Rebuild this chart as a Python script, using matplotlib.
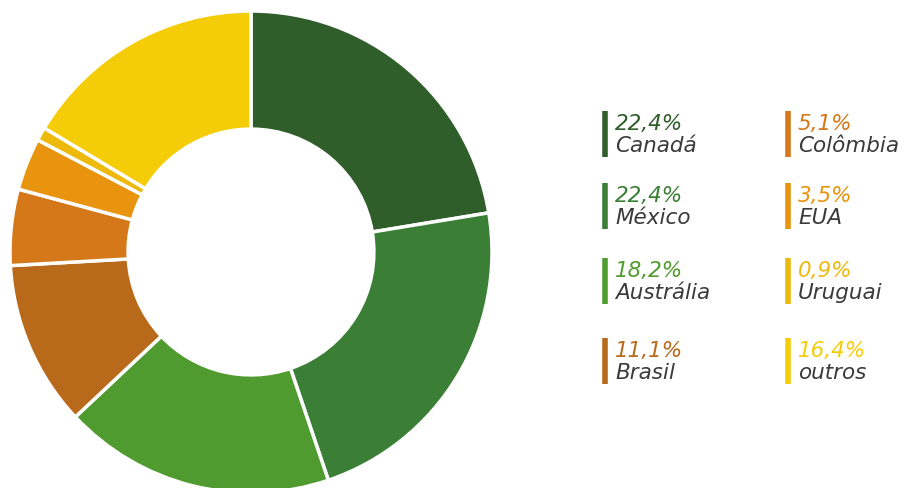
import matplotlib.pyplot as plt

# Participação por país
paises = ['Canadá', 'México', 'Austrália', 'Brasil', 'Colômbia', 'EUA', 'Uruguai', 'outros']
valores = [22.4, 22.4, 18.2, 11.1, 5.1, 3.5, 0.9, 16.4]
rotulos = ['22,4%', '22,4%', '18,2%', '11,1%', '5,1%', '3,5%', '0,9%', '16,4%']
cores = ['#2F5E2A', '#3A7F35', '#509B2F', '#B8691A', '#D4781A', '#E8940F', '#EDB90B', '#F5CC08']

W, H = 905, 489
fig = plt.figure(figsize=(W / 100, H / 100), dpi=100)

# Rosca
cx, cy, r = 251, 253, 241
ax = fig.add_axes([(cx - r) / W, (H - cy - r) / H, 2 * r / W, 2 * r / H])
ax.pie(valores, colors=cores, startangle=90, counterclock=False, radius=1,
       wedgeprops=dict(width=0.49, edgecolor='white', linewidth=2.5))
ax.set_xlim(-1, 1)
ax.set_ylim(-1, 1)
ax.set_aspect('equal')
ax.axis('off')

# Legenda em duas colunas
lg = fig.add_axes([0, 0, 1, 1])
lg.set_xlim(0, W)
lg.set_ylim(H, 0)
lg.axis('off')

col_x = [605, 788]
row_y = [112, 184, 259, 339]
for i, (nome, rot, cor) in enumerate(zip(paises, rotulos, cores)):
    x = col_x[i // 4]
    y = row_y[i % 4]
    lg.plot([x, x], [y, y + 46], color=cor, lw=4, solid_capstyle='butt')
    lg.text(x + 10, y + 12, rot, color=cor, fontsize=15.5, style='italic',
            family='DejaVu Sans', va='center', ha='left')
    lg.text(x + 10, y + 34, nome, color='#3a3a3a', fontsize=15.5, style='italic',
            family='DejaVu Sans', va='center', ha='left')

fig.savefig('out.png', dpi=100)
